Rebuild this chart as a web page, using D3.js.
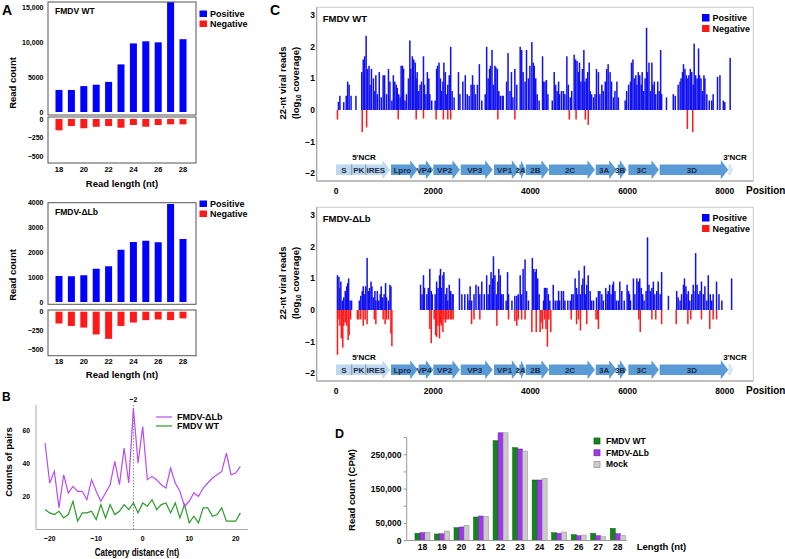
<!DOCTYPE html>
<html><head><meta charset="utf-8">
<script src="https://cdn.jsdelivr.net/npm/d3@7"></script>
<style>
body{margin:0;background:#fff}
svg{display:block}
text{font-family:"Liberation Sans",Arial,sans-serif;font-weight:bold;fill:#000}
</style>
</head><body>
<svg id="fig" width="785" height="559"></svg>
<script>
// ---------------- DATA ----------------
const readLengths = [18,19,20,21,22,23,24,25,26,27,28];
const wtPositive = [3150,3150,3700,3900,4300,6800,9800,10100,9950,15700,10400];
const wtNegative = [-153,-95,-125,-105,-95,-118,-81,-104,-81,-72,-72];
const lbPositive = [1040,1030,1070,1330,1430,2090,2400,2450,2390,3920,2520];
const lbNegative = [-158,-191,-213,-305,-364,-191,-145,-113,-104,-113,-90];
const aTicksWT = [0,5000,10000,15000];
const aTickLabelsWT = ["0","5000","10,000","15,000"];
const aTicksLb = [0,1000,2000,3000,4000];
const aTickLabelsLb = ["0","1000","2000","3000","4000"];
const aTicksNeg = [0,-250,-500];
const aTickLabelsNeg = ["0","\u2212250","\u2212500"];
const aXTicks = [18,20,22,24,26,28];

const categoryDistance = d3.range(-21,22);
const pairsLb = [52,28,35,13,33,22,26,23,23,18,30,23,17,22,27,41,27,49,28,73,40,62,30,32,30,27,25,37,28,23,14,17,22,20,25,28,31,33,35,46,33,34,38];
const pairsWT = [12,10,9,11,7,9,17,5,10,10,11,6,15,7,15,9,11,15,12,16,10,16,14,18,12,15,16,10,16,7,15,4,8,4,13,13,8,9,13,5,5,5,10];
const bXTicks = [-20,-10,0,10,20];
const bYTicks = [20,40,60];

// 22-nt coverage (position nt, log10 coverage)
const wtPlus = [[50,0.26],[80,0.45],[160,0.25],[210,0.45],[240,0.9],[270,0.8],[310,0.45],[410,0.45],[530,1.2],[560,1.6],[590,1.7],[620,2.35],[650,1.3],[680,1.4],[700,0.8],[730,1.3],[770,1.0],[800,0.6],[820,1.1],[850,0.5],[890,1.2],[930,0.4],[970,1.1],[1000,1.1],[1040,0.5],[1080,1.3],[1110,0.9],[1150,0.3],[1180,1.1],[1210,0.9],[1240,0.8],[1260,0.7],[1290,0.5],[1320,0.4],[1340,1.4],[1370,1.4],[1390,1.3],[1420,0.3],[1450,0.5],[1490,1.0],[1520,2.2],[1540,1.3],[1570,1.7],[1600,1.6],[1630,1.5],[1650,1.0],[1670,1.2],[1700,0.6],[1730,0.8],[1760,0.9],[1800,1.7],[1820,0.8],[1850,0.5],[1880,1.2],[1910,1.0],[1930,0.5],[1970,0.3],[2040,0.3],[2070,1.3],[2090,1.4],[2120,1.5],[2150,1.0],[2170,0.6],[2200,0.9],[2220,1.5],[2250,1.2],[2280,0.5],[2300,0.8],[2330,1.1],[2360,2.0],[2390,0.6],[2430,0.4],[2520,1.2],[2550,0.5],[2610,0.9],[2660,1.1],[2700,0.5],[2740,0.45],[2780,0.8],[2810,1.1],[2840,0.8],[2870,0.5],[2910,0.8],[2950,1.45],[3000,0.3],[3070,0.5],[3100,2.0],[3130,1.0],[3160,1.3],[3180,1.4],[3210,1.9],[3240,0.8],[3270,1.4],[3290,1.35],[3320,1.3],[3350,0.6],[3380,0.45],[3420,0.45],[3440,0.45],[3510,0.9],[3540,1.8],[3580,0.6],[3610,1.2],[3640,0.4],[3680,1.3],[3720,0.8],[3790,2.0],[3820,1.9],[3850,1.2],[3890,0.9],[3920,1.9],[3960,1.0],[3990,1.4],[4030,2.15],[4060,1.5],[4080,1.4],[4110,1.0],[4140,0.5],[4180,0.3],[4250,1.7],[4270,0.9],[4300,0.9],[4330,0.95],[4360,0.5],[4450,0.3],[4490,1.2],[4520,0.8],[4550,0.6],[4580,0.9],[4600,0.5],[4640,0.6],[4680,0.6],[4710,0.5],[4750,1.7],[4780,0.8],[4820,0.4],[4850,0.6],[4900,1.75],[4930,1.6],[4960,1.55],[4990,1.2],[5010,1.5],[5040,0.9],[5070,1.3],[5100,1.9],[5120,0.9],[5150,1.0],[5180,1.2],[5210,1.5],[5230,0.6],[5260,0.5],[5300,0.4],[5330,0.5],[5360,1.3],[5400,1.2],[5430,0.5],[5470,0.8],[5500,0.6],[5540,0.9],[5570,1.3],[5600,1.45],[5640,1.2],[5670,0.9],[5710,0.4],[5740,0.6],[5780,0.9],[5810,0.4],[5950,0.3],[5980,0.6],[6020,0.8],[6060,0.9],[6080,1.5],[6110,1.6],[6140,1.0],[6170,1.1],[6190,0.8],[6220,1.2],[6250,1.1],[6280,0.8],[6300,1.2],[6330,0.6],[6360,1.0],[6390,2.6],[6410,1.2],[6440,1.5],[6470,0.6],[6500,1.5],[6520,0.8],[6550,0.9],[6580,0.5],[6620,0.9],[6650,0.6],[6680,1.9],[6700,0.5],[6800,0.4],[6940,0.5],[6980,0.45],[7040,0.8],[7080,0.9],[7100,1.0],[7130,1.2],[7150,1.45],[7180,1.3],[7210,1.1],[7240,1.0],[7260,1.1],[7290,1.3],[7320,1.2],[7350,0.8],[7370,2.1],[7400,1.1],[7430,1.0],[7460,1.95],[7480,1.1],[7510,1.0],[7540,0.6],[7570,1.1],[7590,1.0],[7630,0.5],[7680,0.3],[7730,0.3],[7760,0.5],[7850,1.05],[7900,1.1],[7970,0.3],[8000,0.25],[8110,1.65]];
const wtMinus = [[30,-0.3],[540,-0.7],[630,-0.55],[1280,-0.3],[1650,-0.3],[1800,-0.27],[2060,-0.3],[2210,-0.3],[2300,-0.3],[2360,-0.3],[3330,-0.3],[3680,-0.3],[4800,-0.3],[4940,-0.3],[5130,-0.3],[5190,-0.47],[7230,-0.6],[7340,-0.7]];
const lbPlus = [[30,1.1],[60,1.05],[80,0.7],[100,0.9],[130,0.3],[160,0.4],[190,0.6],[220,0.75],[240,0.85],[260,1.0],[290,0.3],[320,0.3],[480,0.3],[510,0.45],[540,0.6],[560,0.75],[580,0.5],[610,0.75],[640,1.65],[670,0.6],[690,0.7],[720,0.9],[740,0.75],[770,0.4],[800,0.6],[820,0.3],[850,0.6],[880,0.3],[910,0.5],[930,0.75],[960,0.4],[990,0.5],[1020,0.85],[1040,0.4],[1080,0.3],[1110,0.8],[1130,0.75],[1740,0.8],[1770,0.5],[1800,1.1],[1820,0.7],[1870,0.5],[1900,0.7],[1930,1.3],[1960,0.6],[1980,0.5],[2040,0.5],[2070,0.9],[2100,0.7],[2130,1.1],[2150,1.3],[2170,0.7],[2200,1.1],[2220,1.2],[2250,0.5],[2280,0.7],[2300,0.3],[2330,0.8],[2360,0.6],[2390,0.5],[2410,0.5],[2540,1.0],[2590,0.5],[2650,0.5],[2710,0.5],[2740,0.3],[2760,0.75],[2790,0.3],[2840,0.5],[2880,0.8],[2930,0.75],[2960,0.5],[3000,0.9],[3050,0.5],[3100,1.1],[3130,0.5],[3160,0.8],[3190,1.2],[3220,1.0],[3240,1.7],[3270,1.1],[3300,0.5],[3330,0.9],[3350,1.3],[3380,1.1],[3410,0.5],[3440,0.5],[3500,0.3],[3530,1.2],[3550,0.5],[3620,0.3],[3680,0.45],[3720,0.45],[3750,0.5],[3790,1.1],[3820,0.5],[3850,1.3],[3890,1.6],[3920,0.6],[3960,0.3],[4040,1.65],[4070,1.3],[4100,1.2],[4120,1.3],[4150,1.0],[4180,0.5],[4270,0.3],[4290,0.7],[4310,0.7],[4340,0.7],[4370,0.5],[4400,0.3],[4470,0.8],[4510,0.3],[4550,0.3],[4580,0.6],[4600,0.3],[4640,0.6],[4680,0.6],[4710,0.3],[4770,0.3],[4820,0.3],[4850,0.5],[4880,0.5],[4920,1.0],[4950,0.7],[4970,0.5],[5000,1.25],[5030,0.5],[5060,0.8],[5080,1.0],[5110,1.4],[5140,0.5],[5160,0.8],[5190,1.1],[5230,0.6],[5260,0.3],[5300,0.3],[5360,0.4],[5400,0.6],[5430,0.6],[5470,0.5],[5500,0.3],[5550,0.7],[5580,0.5],[5600,0.6],[5630,0.8],[5660,0.5],[5690,0.8],[5710,0.9],[5740,0.6],[5770,0.3],[5810,0.3],[5840,0.9],[5880,0.6],[5930,0.3],[5990,0.8],[6020,0.6],[6040,0.5],[6060,0.3],[6120,1.0],[6150,0.5],[6190,1.0],[6220,0.9],[6250,1.0],[6280,0.7],[6310,0.5],[6340,0.3],[6380,0.6],[6410,2.3],[6440,0.8],[6470,0.6],[6500,0.7],[6530,0.9],[6560,0.5],[6600,0.6],[6630,0.9],[6670,0.5],[6700,1.2],[6840,0.45],[7010,0.6],[7040,0.4],[7080,0.3],[7110,0.5],[7150,0.8],[7170,1.0],[7200,0.75],[7220,0.5],[7250,0.6],[7280,0.3],[7320,0.5],[7350,0.8],[7390,0.6],[7400,1.8],[7430,0.8],[7460,0.5],[7490,0.6],[7520,0.9],[7560,0.5],[7590,0.75],[7630,0.3],[7660,1.1],[7700,0.5],[7730,0.3],[7760,0.5],[7830,0.9],[7880,0.5],[7940,0.3],[8140,1.0]];
const lbMinus = [[30,-1.42],[60,-0.3],[80,-0.5],[110,-0.9],[140,-1.19],[160,-0.5],[190,-0.4],[220,-0.5],[250,-0.95],[270,-0.8],[300,-0.3],[440,-0.3],[470,-0.3],[510,-0.3],[560,-0.5],[600,-0.3],[640,-0.45],[790,-0.3],[820,-0.45],[970,-0.3],[1010,-0.45],[1040,-0.3],[1080,-0.3],[1130,-0.75],[1150,-1.15],[1930,-0.6],[1960,-1.05],[2020,-0.3],[2050,-0.8],[2070,-0.85],[2100,-0.5],[2130,-0.9],[2150,-0.4],[2170,-0.5],[2200,-0.7],[2220,-0.3],[2250,-0.4],[2280,-0.3],[2310,-0.3],[2350,-0.3],[2380,-0.3],[2410,-0.3],[2790,-0.45],[2840,-0.3],[2960,-0.3],[3310,-0.5],[3550,-0.3],[3680,-0.35],[3720,-0.5],[3750,-0.3],[3820,-0.3],[3890,-0.3],[4030,-0.7],[4120,-0.7],[4200,-0.7],[4220,-0.4],[4250,-0.6],[4290,-0.3],[4320,-0.6],[4350,-1.16],[4380,-0.3],[4420,-0.7],[4840,-0.3],[4950,-0.45],[4990,-0.3],[5030,-0.65],[5160,-0.45],[5350,-0.3],[5380,-0.3],[5400,-0.6],[6230,-0.3],[6260,-0.7],[6500,-0.3],[6580,-0.3],[6700,-0.45],[7000,-0.45],[7240,-0.45],[7300,-0.3],[7520,-0.3],[7690,-0.6],[7760,-0.3],[7830,-0.3]];
const cXTicks = [0,2000,4000,6000,8000];
const cYTicks = [-2,-1,0,1,2,3];

// genome map (nt)
const geneNames  = ["S","PK","IRES","Lpro","VP4","VP2","VP3","VP1","2A","2B","2C","3A","3B","3C","3D",""];
const geneStarts = [0,323,611,1132,1701,2003,2566,3251,3772,3905,4383,5344,5796,6015,6660,8072];
const geneEnds   = [323,611,1111,1681,2003,2551,3224,3772,3905,4383,5329,5776,5981,6646,8072,8175];
const geneKinds  = ["ncr","ncr","ncrArrow","cds","cds","cds","cds","cds","cds","cds","cds","cds","cds","cds","cds","ncr3"];

// panel D (CPM)
const cpmWT   = [21000,19000,37300,68500,291000,270600,176400,22700,17000,21000,35500];
const cpmLb   = [22700,19800,39400,71400,314000,266800,176400,21000,14000,14000,19800];
const cpmMock = [24000,27700,44300,70500,314000,261000,181300,24800,16000,11100,14000];
const dYTicks = [0,50000,100000,150000,200000,250000,300000];
const dYLabels = {0:"0",50000:"50,000",150000:"150,000",250000:"250,000"};

// ---------------- DRAW ----------------
const svg = d3.select("#fig");
svg.append("rect").attr("width",785).attr("height",559).attr("fill","#fff");
const defs = svg.append("defs");
function squeeze(sel,f){ sel.each(function(){ const w=this.getComputedTextLength(); this.setAttribute("textLength",w*f); this.setAttribute("lengthAdjust","spacingAndGlyphs"); }); }
function label(t,x,y,size,anchor){ return svg.append("text").attr("x",x).attr("y",y).attr("font-size",size).attr("text-anchor",anchor||"start").text(t); }
function vlabel(t,x,y,size){ return svg.append("text").attr("transform",`translate(${x},${y}) rotate(-90)`).attr("font-size",size).attr("text-anchor","middle").text(t); }

const BLUE="#0000ff", RED="#ff1a1a";

// Panel letters
label("A",2,15,14); label("B",2,401,12); label("C",270,15,14); label("D",335,438,12.5);

// ---- Panel A ----
let clipId=0;
function panelA(o){
  const x = d3.scaleLinear().domain([18,28]).range([59,183]);
  const g = svg.append("g");
  // upper
  const yU = d3.scaleLinear().domain([0,o.uMax]).range([o.u0,o.uTopV]);
  const cu = "clipA"+(clipId++);
  defs.append("clipPath").attr("id",cu).append("rect").attr("x",48).attr("y",o.uBox[0]).attr("width",148).attr("height",o.uBox[1]-o.uBox[0]);
  g.append("g").attr("clip-path",`url(#${cu})`).selectAll("rect").data(o.pos).join("rect")
    .attr("x",(d,i)=>x(readLengths[i])-3.5).attr("width",7)
    .attr("y",d=>yU(d)).attr("height",d=>yU(0)-yU(d)).attr("fill",BLUE);
  g.append("rect").attr("x",48).attr("y",o.uBox[0]).attr("width",148).attr("height",o.uBox[1]-o.uBox[0]).attr("fill","none").attr("stroke","#555").attr("stroke-width",1);
  o.uTicks.forEach((t,i)=>{ g.append("text").attr("x",43.5).attr("y",yU(t)+2.5).attr("font-size",7).attr("text-anchor","end").text(o.uLabels[i]); });
  // lower
  const yL = d3.scaleLinear().domain([0,-500]).range([o.l0,o.l500]);
  g.append("g").selectAll("rect").data(o.neg).join("rect")
    .attr("x",(d,i)=>x(readLengths[i])-3.5).attr("width",7)
    .attr("y",yL(0)).attr("height",d=>yL(d)-yL(0)).attr("fill",RED);
  g.append("rect").attr("x",48).attr("y",o.lBox[0]).attr("width",148).attr("height",o.lBox[1]-o.lBox[0]).attr("fill","none").attr("stroke","#555").attr("stroke-width",1);
  aTicksNeg.forEach((t,i)=>{ g.append("text").attr("x",43.5).attr("y",yL(t)+2.5).attr("font-size",7).attr("text-anchor","end").text(aTickLabelsNeg[i]); });
  aXTicks.forEach(t=>{ g.append("text").attr("x",x(t)).attr("y",o.xLab).attr("font-size",7.5).attr("text-anchor","middle").text(t); });
  label("Read length (nt)",122,o.xTitle,9.5,"middle");
  vlabel("Read count",15.5,o.yTitle,9.5);
  label(o.title,55,o.titleY,8.5);
  // legend
  g.append("rect").attr("x",199.5).attr("y",o.legY-3.5).attr("width",7.5).attr("height",6.5).attr("fill",BLUE);
  g.append("rect").attr("x",199.5).attr("y",o.legY+6.5).attr("width",7.5).attr("height",6.5).attr("fill",RED);
  label("Positive",210,o.legY+3,9);
  label("Negative",210,o.legY+13,9);
}
panelA({pos:wtPositive,neg:wtNegative,uMax:15000,u0:112,uTopV:7,uBox:[2,115],uTicks:aTicksWT,uLabels:aTickLabelsWT,
  l0:119,l500:156,lBox:[117,163],xLab:172,xTitle:186.5,yTitle:83,title:"FMDV WT",titleY:14,legY:14});
panelA({pos:lbPositive,neg:lbNegative,uMax:4000,u0:302,uTopV:202,uBox:[202.7,304.3],uTicks:aTicksLb,uLabels:aTickLabelsLb,
  l0:311.7,l500:349,lBox:[310,355.7],xLab:363.5,xTitle:377.5,yTitle:275,title:"FMDV-\u0394Lb",titleY:215,legY:204});

// ---- Panel B ----
(function(){
  const x = d3.scaleLinear().domain([-2,0]).range([133.4,142.7]);
  const y = d3.scaleLinear().domain([0,75]).range([529.5,405]);
  const g = svg.append("g");
  g.append("line").attr("x1",36).attr("x2",36).attr("y1",405).attr("y2",529.5).attr("stroke","#aaa");
  g.append("line").attr("x1",36).attr("x2",248).attr("y1",529.5).attr("y2",529.5).attr("stroke","#aaa");
  g.append("line").attr("x1",x(-2)).attr("x2",x(-2)).attr("y1",405).attr("y2",529.5).attr("stroke","#888").attr("stroke-dasharray","1.5,1.5");
  const line = d3.line().x((d,i)=>x(categoryDistance[i])).y(d=>y(d));
  g.append("path").datum(pairsWT).attr("d",line).attr("fill","none").attr("stroke","#2a9a2a").attr("stroke-width",1.2);
  g.append("path").datum(pairsLb).attr("d",line).attr("fill","none").attr("stroke","#b64cf2").attr("stroke-width",1.2);
  bYTicks.forEach(t=>{ squeeze(g.append("text").attr("x",30).attr("y",y(t)+3).attr("font-size",8).attr("text-anchor","end").text(t),0.85); });
  bXTicks.forEach(t=>{ squeeze(g.append("text").attr("x",x(t)).attr("y",540.5).attr("font-size",8).attr("text-anchor","middle").text(t<0?"\u2212"+(-t):t),0.85); });
  squeeze(label("\u22122",x(-2),402,8,"middle"),0.85);
  squeeze(label("Category distance (nt)",137,556,10,"middle"),0.8);
  vlabel("Counts of pairs",11.5,462,9.5);
  g.append("line").attr("x1",156).attr("x2",172).attr("y1",417).attr("y2",417).attr("stroke","#b64cf2").attr("stroke-width",1.2);
  g.append("line").attr("x1",156).attr("x2",172).attr("y1",426).attr("y2",426).attr("stroke","#2a9a2a").attr("stroke-width",1.2);
  label("FMDV-\u0394Lb",177,420.2,9);
  label("FMDV WT",177,429.2,9);
})();

// ---- Panel C ----
function panelC(off,title,plus,minus){
  const x = d3.scaleLinear().domain([0,8000]).range([336,724.8]);
  const y = d3.scaleLinear().domain([-2,3]).range([173.2+off,15.2+off]);
  const g = svg.append("g");
  g.append("rect").attr("x",316.7).attr("y",7.3+off).attr("width",436.6).attr("height",173.7).attr("fill","none").attr("stroke","#c8c8c8");
  g.append("line").attr("x1",316.7).attr("x2",316.7).attr("y1",7.3+off).attr("y2",181+off).attr("stroke","#9a9a9a");
  g.append("line").attr("x1",316.7).attr("x2",753.3).attr("y1",181+off).attr("y2",181+off).attr("stroke","#9a9a9a");
  g.append("g").selectAll("rect").data(plus).join("rect")
    .attr("x",d=>x(d[0])-0.75).attr("width",1.5).attr("y",d=>y(d[1])).attr("height",d=>y(0)-y(d[1])).attr("fill","#1010f0");
  g.append("g").selectAll("rect").data(minus).join("rect")
    .attr("x",d=>x(d[0])-0.75).attr("width",1.5).attr("y",y(0)).attr("height",d=>y(d[1])-y(0)).attr("fill",RED);
  cYTicks.forEach(t=>{ g.append("text").attr("x",315).attr("y",y(t)+3).attr("font-size",8.5).attr("text-anchor","end").text(t<0?"\u2212"+(-t):t); });
  cXTicks.forEach(t=>{ g.append("text").attr("x",x(t)).attr("y",193.5+off).attr("font-size",8.5).attr("text-anchor","middle").text(t); });
  label("Position",746,194+off,10);
  vlabel("22-nt viral reads",285.5,83+off,9.5);
  const t2 = svg.append("text").attr("transform",`translate(298.5,${83+off}) rotate(-90)`).attr("font-size",9.5).attr("text-anchor","middle");
  t2.append("tspan").text("(log");
  t2.append("tspan").attr("font-size",6.5).attr("dy",2.5).text("10");
  t2.append("tspan").attr("dy",-2.5).text(" coverage)");
  label(title,322.7,22+off,9.5);
  // legend
  g.append("rect").attr("x",702).attr("y",14+off).attr("width",7.5).attr("height",7.5).attr("fill",BLUE);
  g.append("rect").attr("x",702).attr("y",25+off).attr("width",7.5).attr("height",7).attr("fill",RED);
  label("Positive",712.5,21.3+off,9);
  label("Negative",712.5,31.8+off,9);
  // genome map
  const yc = y(-1.89), bh=5.3, hh=9.5;
  geneNames.forEach((n,i)=>{
    const x0=x(geneStarts[i]), x1=x(geneEnds[i]), k=geneKinds[i];
    const hl = (k==="ncr") ? 0 : Math.min(7.5,(x1-x0)*0.75);
    const hH = (k==="ncr3") ? 7 : hh;
    const pts = hl===0 ? [[x0,yc-bh],[x1,yc-bh],[x1,yc+bh],[x0,yc+bh]]
      : [[x0,yc-bh],[x1-hl,yc-bh],[x1-hl,yc-hH],[x1,yc],[x1-hl,yc+hH],[x1-hl,yc+bh],[x0,yc+bh]];
    const col = k==="cds" ? "#5b9bd5" : (k==="ncr3" ? "#d6e6f5" : "#bdd7ee");
    g.append("polygon").attr("points",pts.map(p=>p.join(",")).join(" ")).attr("fill",col);
    if(n) g.append("text").attr("x",(x0+x1)/2-(hl?2:0)).attr("y",yc+3).attr("font-size",8).attr("text-anchor","middle").attr("fill","#1c2a48").style("fill","#1c2a48").text(n);
  });
  [323,611].forEach(p=>g.append("line").attr("x1",x(p)).attr("x2",x(p)).attr("y1",yc-bh).attr("y2",yc+bh).attr("stroke","#6f7f90").attr("stroke-width",0.8));
  label("5'NCR",364,159.5+off,8,"middle");
  label("3'NCR",735,159.5+off,8,"middle");
}
panelC(0,"FMDV WT",wtPlus,wtMinus);
panelC(200,"FMDV-\u0394Lb",lbPlus,lbMinus);

// ---- Panel D ----
(function(){
  const x = d3.scaleBand().domain(readLengths).range([412.7,627.5]);
  const sub = d3.scaleBand().domain([0,1,2]).range([-7.5,7.5]);
  const y = d3.scaleLinear().domain([0,300000]).range([540.5,437.6]);
  const g = svg.append("g");
  const series = [cpmWT,cpmLb,cpmMock];
  const fills = ["#12861a","#a236ee","#cbcbcb"], strokes=["#0b5a10","#6a1fa3","#8d8d8d"];
  series.forEach((s,si)=>{
    g.append("g").selectAll("rect").data(s).join("rect")
      .attr("x",(d,i)=>x(readLengths[i])+x.bandwidth()/2+sub(si)).attr("width",sub.bandwidth())
      .attr("y",d=>y(d)).attr("height",d=>y(0)-y(d)).attr("fill",fills[si]).attr("stroke",strokes[si]).attr("stroke-width",0.5);
  });
  g.append("line").attr("x1",406.7).attr("x2",406.7).attr("y1",437.6).attr("y2",540.5).attr("stroke","#999");
  g.append("line").attr("x1",406.7).attr("x2",627).attr("y1",540.5).attr("y2",540.5).attr("stroke","#999");
  dYTicks.forEach(t=>{
    g.append("line").attr("x1",403.7).attr("x2",406.7).attr("y1",y(t)).attr("y2",y(t)).attr("stroke","#999");
    if(dYLabels[t]!==undefined) g.append("text").attr("x",401.5).attr("y",y(t)+3).attr("font-size",8.5).attr("text-anchor","end").text(dYLabels[t]);
  });
  readLengths.forEach(t=>{ g.append("text").attr("x",x(t)+x.bandwidth()/2).attr("y",549.5).attr("font-size",8.5).attr("text-anchor","middle").text(t); });
  vlabel("Read count (CPM)",355,490,9.5);
  label("Length (nt)",636.7,550,9.5);
  const leg = ["FMDV WT","FMDV-\u0394Lb","Mock"];
  leg.forEach((n,i)=>{
    g.append("rect").attr("x",594).attr("y",438+i*11.8).attr("width",6).attr("height",6).attr("fill",fills[i]).attr("stroke",strokes[i]).attr("stroke-width",0.7);
    label(n,606,444+i*11.5,8.5);
  });
})();
</script>
</body></html>
